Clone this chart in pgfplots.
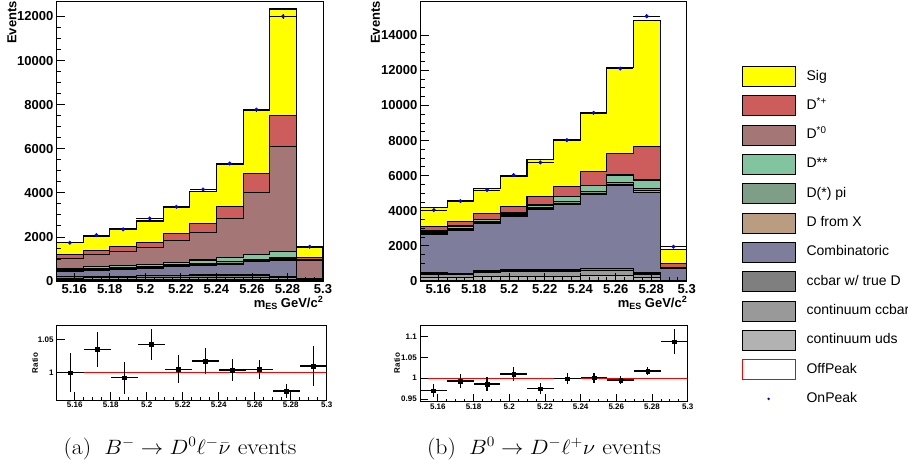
\documentclass[border=0pt]{standalone}
\usepackage{pgfplots}
\pgfplotsset{compat=1.18}
\usepackage{pgfplotstable}
\usepackage{fontspec}
\newfontfamily\helv{Liberation Sans}

% fill colours of the stacked components
\definecolor{cSig}{RGB}{255,255,0}
\definecolor{cDp}{RGB}{205,92,92}
\definecolor{cDz}{RGB}{164,118,118}
\definecolor{cDss}{RGB}{130,195,160}
\definecolor{cDpi}{RGB}{126,158,136}
\definecolor{cDX}{RGB}{186,156,128}
\definecolor{cComb}{RGB}{126,126,156}
\definecolor{cCCD}{RGB}{127,127,127}
\definecolor{cCC}{RGB}{153,153,153}
\definecolor{cUDS}{RGB}{178,178,178}

% cumulative stack tops per m_ES bin (low edge), last row closes the final bin
\pgfplotstableread{
x     uds cc  ccD comb dX   dpi  dss  d0   dp   sig
5.150 70  130 200 420  450  500  570  1026 1210 1736
5.165 70  140 210 500  530  580  640  1190 1390 2013
5.180 70  140 210 540  570  620  690  1328 1555 2358
5.195 70  150 230 580  610  660  730  1520 1760 2722
5.210 80  160 250 650  680  730  845  1826 2170 3349
5.225 80  170 270 724  760  800  951  2204 2611 4079
5.240 80  170 270 755  800  875  1071 2838 3396 5307
5.255 80  170 270 905  940  981  1207 4030 4875 7735
5.270 70  150 200 951  1000 1056 1358 6113 7517 12339
5.285 20  40  60  100  110  120  130  951  1071 1534
5.300 20  40  60  100  110  120  130  951  1071 1534
}\stackA

\pgfplotstableread{
x     uds cc  ccD comb dX   dpi  dss  d0   dp   sig
5.150 210 400 474 2660 2700 2760 2850 2902 3110 4164
5.165 190 370 436 2900 2940 3000 3100 3149 3390 4582
5.180 250 480 569 3282 3320 3390 3490 3528 3851 5250
5.195 280 530 626 3661 3700 3760 3850 3889 4268 5971
5.210 280 530 626 4079 4120 4180 4330 4382 4837 6926
5.225 280 530 626 4363 4420 4515 4790 4837 5406 8030
5.240 310 600 702 4951 5010 5084 5420 5463 6222 9566
5.255 310 600 702 5463 5520 5596 6040 6089 7265 12151
5.270 210 400 474 5027 5150 5274 5740 5786 7683 14823
5.285 20  40  50  700  720  740  760  778  1005 1798
5.300 20  40  50  700  720  740  760  778  1005 1798
}\stackB

% on-peak data
\pgfplotstableread{
x      y     ex     ey
5.1575 1736  0.0075 42
5.1725 2083  0.0075 46
5.1875 2340  0.0075 48
5.2025 2838  0.0075 53
5.2175 3366  0.0075 58
5.2325 4151  0.0075 64
5.2475 5328  0.0075 73
5.2625 7774  0.0075 88
5.2775 12000 0.0075 110
5.2925 1554  0.0075 39
}\dataA

\pgfplotstableread{
x      y     ex     ey
5.1575 4041  0.0075 64
5.1725 4553  0.0075 67
5.1875 5179  0.0075 72
5.2025 6032  0.0075 78
5.2175 6753  0.0075 82
5.2325 8024  0.0075 90
5.2475 9580  0.0075 98
5.2625 12103 0.0075 110
5.2775 15081 0.0075 123
5.2925 1954  0.0075 44
}\dataB

% data / MC ratios
\pgfplotstableread{
x      y      ex     ey
5.1575 1.000  0.0075 0.029
5.1725 1.035  0.0075 0.026
5.1875 0.9925 0.0075 0.024
5.2025 1.0426 0.0075 0.023
5.2175 1.005  0.0075 0.021
5.2325 1.0176 0.0075 0.019
5.2475 1.004  0.0075 0.016
5.2625 1.005  0.0075 0.014
5.2775 0.9725 0.0075 0.010
5.2925 1.010  0.0075 0.030
}\ratioA

\pgfplotstableread{
x      y      ex     ey
5.1575 0.9705 0.0075 0.016
5.1725 0.9936 0.0075 0.017
5.1875 0.9864 0.0075 0.016
5.2025 1.0102 0.0075 0.016
5.2175 0.975  0.0075 0.013
5.2325 0.999  0.0075 0.013
5.2475 1.0015 0.0075 0.012
5.2625 0.996  0.0075 0.010
5.2775 1.0174 0.0075 0.010
5.2925 1.087  0.0075 0.030
}\ratioB

\pgfplotsset{
  /pgf/number format/assume math mode=true,
  /pgf/number format/1000 sep={},
  rootframe/.style={
    scale only axis, anchor=south west,
    xmin=5.15, xmax=5.30, ymin=0,
    axis on top, tick align=inside, xtick pos=bottom, ytick pos=left,
    axis line style={line width=0.8pt},
    tick style={line width=0.8pt, black},
    xtick={5.16,5.18,5.2,5.22,5.24,5.26,5.28,5.3},
    xticklabels={5.16,5.18,5.2,5.22,5.24,5.26,5.28,5.3},
    minor x tick num=3, scaled ticks=false,
  },
  mainhist/.style={rootframe, minor y tick num=3,
    major tick length=8pt, minor tick length=4pt,
    tick label style={font=\helv\bfseries\fontsize{13}{15}\selectfont},
    xticklabel style={inner sep=0pt, yshift=-3pt},
    yticklabel style={inner sep=0pt, xshift=-3pt}},
  ratiopanel/.style={rootframe,
    major tick length=8pt, minor tick length=3pt,
    tick label style={font=\helv\bfseries\fontsize{8}{10}\selectfont},
    xticklabel style={inner sep=0pt, yshift=-2pt},
    yticklabel style={inner sep=0pt, xshift=-3pt}},
  layer/.style={const plot mark left, fill=#1, draw=black, line width=1.1pt, mark=none},
  xyerr/.style={
    error bars/x dir=both, error bars/x explicit,
    error bars/y dir=both, error bars/y explicit,
    error bars/error mark=none,
    error bars/error bar style={black, line width=#1}},
  onpeak/.style={only marks, mark=*, mark size=1.8pt,
    mark options={fill=blue, draw=blue}, xyerr=1pt},
  ratiopts/.style={only marks, mark=square*, mark size=1.8pt,
    mark options={fill=black, draw=black}, xyerr=1.2pt},
}

\begin{document}
\begin{tikzpicture}
\path[use as bounding box] (0pt,0pt) rectangle (908pt,-460pt);

% ---------------- (a) B- -> D0 l nu ----------------
\begin{axis}[mainhist, at={(56.5pt,-281pt)}, width=266.5pt, height=280pt,
  ymax=12700, ytick={0,2000,4000,6000,8000,10000,12000}]
  \addplot[layer=cSig]  table[x=x,y=sig]  {\stackA} \closedcycle;
  \addplot[layer=cDp]   table[x=x,y=dp]   {\stackA} \closedcycle;
  \addplot[layer=cDz]   table[x=x,y=d0]   {\stackA} \closedcycle;
  \addplot[layer=cDss]  table[x=x,y=dss]  {\stackA} \closedcycle;
  \addplot[layer=cDpi]  table[x=x,y=dpi]  {\stackA} \closedcycle;
  \addplot[layer=cDX]   table[x=x,y=dX]   {\stackA} \closedcycle;
  \addplot[layer=cComb] table[x=x,y=comb] {\stackA} \closedcycle;
  \addplot[layer=cCCD]  table[x=x,y=ccD]  {\stackA} \closedcycle;
  \addplot[layer=cCC]   table[x=x,y=cc]   {\stackA} \closedcycle;
  \addplot[layer=cUDS]  table[x=x,y=uds]  {\stackA} \closedcycle;
  \addplot[onpeak] table[x=x,y=y,x error=ex,y error=ey] {\dataA};
\end{axis}

\begin{axis}[ratiopanel, at={(56.7pt,-400pt)}, width=270pt, height=75pt,
  ymin=0.959, ymax=1.0716, ytick={1,1.05}]
  \addplot[red, line width=1pt] coordinates {(5.15,1) (5.30,1)};
  \addplot[ratiopts] table[x=x,y=y,x error=ex,y error=ey] {\ratioA};
\end{axis}

% ---------------- (b) B0 -> D- l nu ----------------
\begin{axis}[mainhist, at={(420.5pt,-281pt)}, width=266.2pt, height=280pt,
  ymax=15950, ytick={0,2000,4000,6000,8000,10000,12000,14000},
  legend style={at={(1.2066,0.7679)}, anchor=north west, draw=none, fill=none,
    inner sep=0pt, row sep=8.5pt,
    font=\helv\fontsize{14}{16}\selectfont,
    nodes={inner sep=0pt, text height=10pt, text depth=3pt}},
  legend cell align=left,
  legend image code/.code={\draw[#1, line width=0.8pt] (0pt,-10pt) rectangle (52.6pt,10pt);
    \path[draw=none, fill=none] (64.3pt,0pt);}]
  \addplot[layer=cSig]  table[x=x,y=sig]  {\stackB} \closedcycle; \addlegendentry{Sig}
  \addplot[layer=cDp]   table[x=x,y=dp]   {\stackB} \closedcycle; \addlegendentry{D\textsuperscript{*+}}
  \addplot[layer=cDz]   table[x=x,y=d0]   {\stackB} \closedcycle; \addlegendentry{D\textsuperscript{*0}}
  \addplot[layer=cDss]  table[x=x,y=dss]  {\stackB} \closedcycle; \addlegendentry{D**}
  \addplot[layer=cDpi]  table[x=x,y=dpi]  {\stackB} \closedcycle; \addlegendentry{D(*) pi}
  \addplot[layer=cDX]   table[x=x,y=dX]   {\stackB} \closedcycle; \addlegendentry{D from X}
  \addplot[layer=cComb] table[x=x,y=comb] {\stackB} \closedcycle; \addlegendentry{Combinatoric}
  \addplot[layer=cCCD]  table[x=x,y=ccD]  {\stackB} \closedcycle; \addlegendentry{ccbar w/ true D}
  \addplot[layer=cCC]   table[x=x,y=cc]   {\stackB} \closedcycle; \addlegendentry{continuum ccbar}
  \addplot[layer=cUDS]  table[x=x,y=uds]  {\stackB} \closedcycle; \addlegendentry{continuum uds}
  \addlegendimage{draw=red, fill=white}
  \addlegendentry{OffPeak}
  \addplot[onpeak, legend image code/.code={\fill[blue, draw=none] (26.3pt,0pt) circle (1.4pt);
      \path[draw=none, fill=none] (0pt,-10.4pt) rectangle (64.3pt,10.4pt);}]
    table[x=x,y=y,x error=ex,y error=ey] {\dataB};
  \addlegendentry{OnPeak}
\end{axis}

\begin{axis}[ratiopanel, at={(420pt,-401.7pt)}, width=267.7pt, height=76.7pt,
  ymin=0.944, ymax=1.127, ytick={0.95,1,1.05,1.1}]
  \addplot[red, line width=1pt] coordinates {(5.15,1) (5.30,1)};
  \addplot[ratiopts] table[x=x,y=y,x error=ex,y error=ey] {\ratioB};
\end{axis}

% axis titles
\begin{scope}[every node/.style={font=\helv\bfseries\fontsize{13}{15}\selectfont, inner sep=0pt}]
  \node[rotate=90, anchor=east] at (12pt,-1pt) {Events};
  \node[rotate=90, anchor=east] at (375.5pt,-1pt) {Events};
  \node[anchor=base east] at (323pt,-307pt)
    {m\raisebox{-0.35ex}{\fontsize{9}{9}\selectfont ES} GeV/c\raisebox{0.7ex}{\fontsize{9}{9}\selectfont 2}};
  \node[anchor=base east] at (687pt,-307pt)
    {m\raisebox{-0.35ex}{\fontsize{9}{9}\selectfont ES} GeV/c\raisebox{0.7ex}{\fontsize{9}{9}\selectfont 2}};
\end{scope}
\begin{scope}[every node/.style={font=\helv\bfseries\fontsize{8}{10}\selectfont, inner sep=0pt}]
  \node[rotate=90] at (35pt,-363pt) {Ratio};
  \node[rotate=90] at (397pt,-363pt) {Ratio};
\end{scope}

% sub-captions
\begin{scope}[every node/.style={font=\fontsize{22}{26}\selectfont, inner sep=0pt,
    xscale=1.08, transform shape}]
  \node[anchor=base] at (180pt,-454pt) {(a)\hspace{0.55em}$B^-\to D^0\ell^-\bar\nu$ events};
  \node[anchor=base] at (544pt,-454pt) {(b)\hspace{0.55em}$B^0\to D^-\ell^+\nu$ events};
\end{scope}
\end{tikzpicture}
\end{document}
